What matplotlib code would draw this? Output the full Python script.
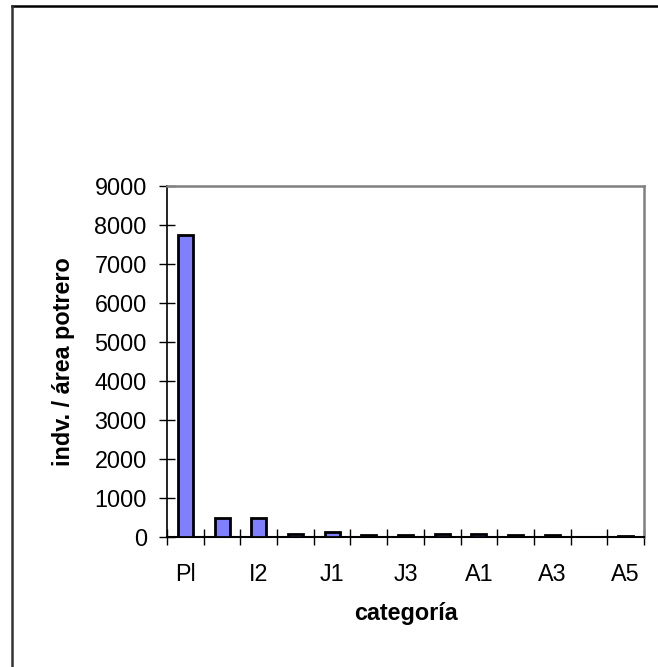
import matplotlib.pyplot as plt
from matplotlib.lines import Line2D

# density per stage category
categories = ['Pl', 'I1', 'I2', 'I3', 'J1', 'J2', 'J3', 'J4', 'A1', 'A2', 'A3', 'A4', 'A5']
values = [7740, 490, 490, 65, 140, 50, 50, 65, 65, 55, 40, 0, 20]
yticks = [0, 1000, 2000, 3000, 4000, 5000, 6000, 7000, 8000, 9000]

plt.rcParams['font.family'] = ['Liberation Sans', 'DejaVu Sans']
fs = 16.8

fig = plt.figure(figsize=(6.58, 6.67), dpi=100)
ax = fig.add_axes([167 / 658, 1 - 537 / 667, (644 - 167) / 658, (537 - 186) / 667])

x = list(range(len(categories)))
for xi, v in zip(x, values):
    if v > 0:
        ax.bar(xi, v, width=0.41, color='#8080ff', edgecolor='black', linewidth=2.0, zorder=3)

ax.set_xlim(-0.5, len(categories) - 0.5)
ax.set_ylim(0, 9000)
ax.set_yticks(yticks)
ax.tick_params(axis='y', direction='inout', length=11, width=1, labelsize=fs, pad=9)

# tick marks sit between categories, labels on every other category
ax.set_xticks([i - 0.5 for i in range(len(categories) + 1)])
ax.set_xticklabels([])
ax.tick_params(axis='x', which='major', direction='inout', length=11, width=1)
ax.set_xticks(x[::2], minor=True)
ax.set_xticklabels(categories[::2], minor=True)
ax.tick_params(axis='x', which='minor', length=0, labelsize=fs, pad=19)

ax.set_ylabel('indv. / área potrero', fontsize=fs, fontweight='bold', labelpad=14)
ax.set_xlabel('categoría', fontsize=fs, fontweight='bold', labelpad=11)

ax.spines['left'].set_color('black')
ax.spines['bottom'].set_color('black')
ax.spines['left'].set_linewidth(1.2)
ax.spines['bottom'].set_linewidth(1.5)
for s in ('top', 'right'):
    ax.spines[s].set_color('#808080')
    ax.spines[s].set_linewidth(1.8)

# outer chart frame
fig.add_artist(Line2D([12 / 658, 1], [1 - 6 / 667, 1 - 6 / 667], color='black', lw=1.8))
fig.add_artist(Line2D([12 / 658, 12 / 658], [0, 1 - 6 / 667], color='#333333', lw=1.8))

fig.savefig('out.png', dpi=100)
